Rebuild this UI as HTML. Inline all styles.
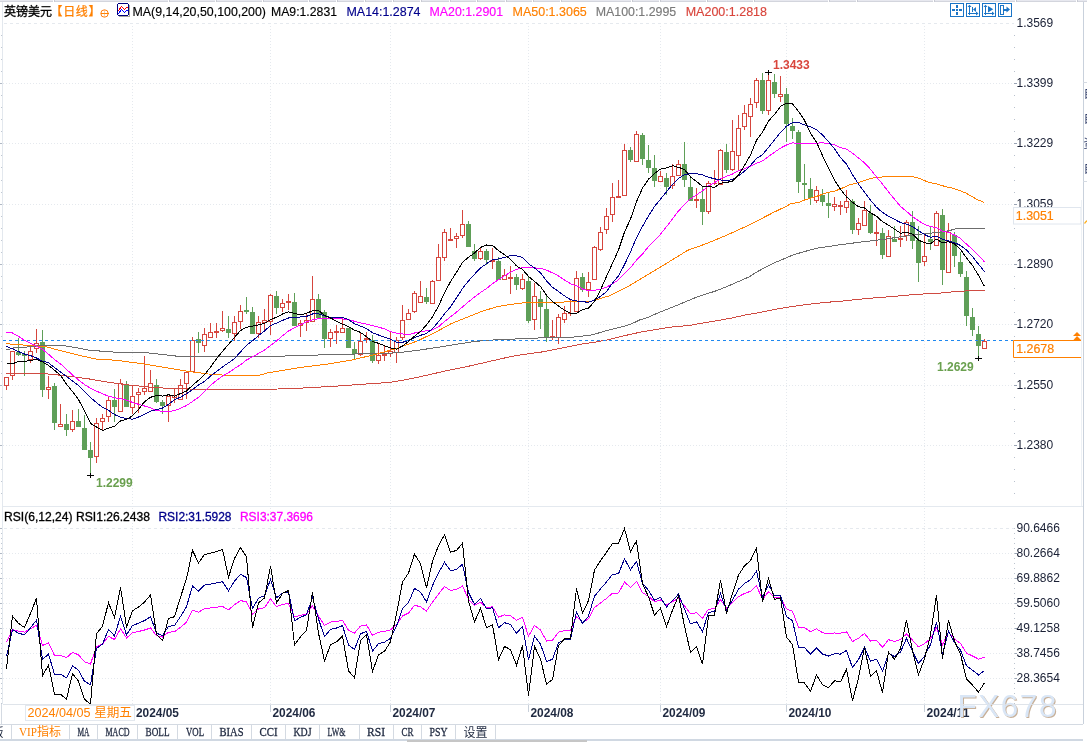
<!DOCTYPE html><html><head><meta charset="utf-8"><title>英镑美元 日线</title><style>html,body{margin:0;padding:0;background:#fff;overflow:hidden}svg{display:block}</style></head><body>
<svg width="1087" height="742" viewBox="0 0 1087 742" font-family="'Liberation Sans', 'Noto Sans CJK SC', sans-serif">
<rect x="0" y="0" width="1087" height="742" fill="#ffffff"/>
<rect x="0" y="0" width="1087" height="1" fill="#e7e8ef"/>
<rect x="0" y="1" width="1087" height="1" fill="#d3d5dd"/>
<rect x="53" y="0" width="1" height="2" fill="#ffffff"/><rect x="54" y="0" width="1" height="2" fill="#c8cad3"/>
<rect x="168" y="0" width="1" height="2" fill="#ffffff"/><rect x="169" y="0" width="1" height="2" fill="#c8cad3"/>
<rect x="215" y="0" width="1" height="2" fill="#ffffff"/><rect x="216" y="0" width="1" height="2" fill="#c8cad3"/>
<rect x="262" y="0" width="1" height="2" fill="#ffffff"/><rect x="263" y="0" width="1" height="2" fill="#c8cad3"/>
<rect x="308" y="0" width="1" height="2" fill="#ffffff"/><rect x="309" y="0" width="1" height="2" fill="#c8cad3"/>
<rect x="336" y="0" width="1" height="2" fill="#ffffff"/><rect x="337" y="0" width="1" height="2" fill="#c8cad3"/>
<rect x="364" y="0" width="1" height="2" fill="#ffffff"/><rect x="365" y="0" width="1" height="2" fill="#c8cad3"/>
<rect x="392" y="0" width="1" height="2" fill="#ffffff"/><rect x="393" y="0" width="1" height="2" fill="#c8cad3"/>
<rect x="420" y="0" width="1" height="2" fill="#ffffff"/><rect x="421" y="0" width="1" height="2" fill="#c8cad3"/>
<rect x="449" y="0" width="1" height="2" fill="#ffffff"/><rect x="450" y="0" width="1" height="2" fill="#c8cad3"/>
<rect x="476" y="0" width="1" height="2" fill="#ffffff"/><rect x="477" y="0" width="1" height="2" fill="#c8cad3"/>
<rect x="505" y="0" width="1" height="2" fill="#ffffff"/><rect x="506" y="0" width="1" height="2" fill="#c8cad3"/>
<rect x="532" y="0" width="1" height="2" fill="#ffffff"/><rect x="533" y="0" width="1" height="2" fill="#c8cad3"/>
<rect x="560" y="0" width="1" height="2" fill="#ffffff"/><rect x="561" y="0" width="1" height="2" fill="#c8cad3"/>
<rect x="631" y="0" width="1" height="2" fill="#ffffff"/><rect x="632" y="0" width="1" height="2" fill="#c8cad3"/>
<rect x="659" y="0" width="1" height="2" fill="#ffffff"/><rect x="660" y="0" width="1" height="2" fill="#c8cad3"/>
<rect x="706" y="0" width="1" height="2" fill="#ffffff"/><rect x="707" y="0" width="1" height="2" fill="#c8cad3"/>
<rect x="753" y="0" width="1" height="2" fill="#ffffff"/><rect x="754" y="0" width="1" height="2" fill="#c8cad3"/>
<rect x="828" y="0" width="1" height="2" fill="#ffffff"/><rect x="829" y="0" width="1" height="2" fill="#c8cad3"/>
<rect x="856" y="0" width="1" height="2" fill="#ffffff"/><rect x="857" y="0" width="1" height="2" fill="#c8cad3"/>
<rect x="933" y="0" width="1" height="2" fill="#ffffff"/><rect x="934" y="0" width="1" height="2" fill="#c8cad3"/>
<rect x="1015" y="0" width="1" height="2" fill="#ffffff"/><rect x="1016" y="0" width="1" height="2" fill="#c8cad3"/>
<rect x="1076" y="0" width="1" height="2" fill="#ffffff"/><rect x="1077" y="0" width="1" height="2" fill="#c8cad3"/>
<line x1="2.5" y1="2" x2="2.5" y2="704" stroke="#e3e8ee" stroke-width="1"/>
<line x1="1083.5" y1="2" x2="1083.5" y2="724" stroke="#c9d1dc" stroke-width="1"/>
<line x1="4" y1="23.5" x2="1014" y2="23.5" stroke="#e5e9ee" stroke-dasharray="3,3"/>
<line x1="3" y1="83.5" x2="1014" y2="83.5" stroke="#e5e9ee" stroke-dasharray="1,2"/>
<line x1="3" y1="143.5" x2="1014" y2="143.5" stroke="#e5e9ee" stroke-dasharray="1,2"/>
<line x1="3" y1="204.5" x2="1014" y2="204.5" stroke="#e5e9ee" stroke-dasharray="1,2"/>
<line x1="3" y1="264.5" x2="1014" y2="264.5" stroke="#e5e9ee" stroke-dasharray="1,2"/>
<line x1="3" y1="324.5" x2="1014" y2="324.5" stroke="#e5e9ee" stroke-dasharray="1,2"/>
<line x1="3" y1="385.5" x2="1014" y2="385.5" stroke="#e5e9ee" stroke-dasharray="1,2"/>
<line x1="3" y1="445.5" x2="1014" y2="445.5" stroke="#e5e9ee" stroke-dasharray="1,2"/>
<line x1="132.5" y1="23" x2="132.5" y2="506" stroke="#e5e9ee" stroke-dasharray="1,2"/>
<line x1="132.5" y1="508" x2="132.5" y2="704" stroke="#e5e9ee" stroke-dasharray="1,2"/>
<line x1="270.5" y1="23" x2="270.5" y2="506" stroke="#e5e9ee" stroke-dasharray="1,2"/>
<line x1="270.5" y1="508" x2="270.5" y2="704" stroke="#e5e9ee" stroke-dasharray="1,2"/>
<line x1="390.5" y1="23" x2="390.5" y2="506" stroke="#e5e9ee" stroke-dasharray="1,2"/>
<line x1="390.5" y1="508" x2="390.5" y2="704" stroke="#e5e9ee" stroke-dasharray="1,2"/>
<line x1="528.5" y1="23" x2="528.5" y2="506" stroke="#e5e9ee" stroke-dasharray="1,2"/>
<line x1="528.5" y1="508" x2="528.5" y2="704" stroke="#e5e9ee" stroke-dasharray="1,2"/>
<line x1="660.5" y1="23" x2="660.5" y2="506" stroke="#e5e9ee" stroke-dasharray="1,2"/>
<line x1="660.5" y1="508" x2="660.5" y2="704" stroke="#e5e9ee" stroke-dasharray="1,2"/>
<line x1="786.5" y1="23" x2="786.5" y2="506" stroke="#e5e9ee" stroke-dasharray="1,2"/>
<line x1="786.5" y1="508" x2="786.5" y2="704" stroke="#e5e9ee" stroke-dasharray="1,2"/>
<line x1="924.5" y1="23" x2="924.5" y2="506" stroke="#e5e9ee" stroke-dasharray="1,2"/>
<line x1="924.5" y1="508" x2="924.5" y2="704" stroke="#e5e9ee" stroke-dasharray="1,2"/>
<g shape-rendering="crispEdges">
<line x1="6.5" y1="377" x2="6.5" y2="390" stroke="#d6453d"/>
<rect x="4.5" y="377.5" width="4" height="8" fill="#fff" stroke="#d6453d"/>
<line x1="12.5" y1="351" x2="12.5" y2="380" stroke="#d6453d"/>
<rect x="10.5" y="351.5" width="4" height="24" fill="#fff" stroke="#d6453d"/>
<line x1="18.5" y1="338" x2="18.5" y2="356" stroke="#5f9f58"/>
<rect x="16" y="352" width="5" height="3" fill="#5f9f58"/>
<line x1="24.5" y1="351" x2="24.5" y2="376" stroke="#5f9f58"/>
<rect x="22" y="354" width="5" height="2" fill="#5f9f58"/>
<line x1="30.5" y1="347" x2="30.5" y2="363" stroke="#d6453d"/>
<rect x="28.5" y="351.5" width="4" height="8" fill="#fff" stroke="#d6453d"/>
<line x1="36.5" y1="329" x2="36.5" y2="353" stroke="#d6453d"/>
<rect x="34.5" y="343.5" width="4" height="5" fill="#fff" stroke="#d6453d"/>
<line x1="42.5" y1="330" x2="42.5" y2="397" stroke="#5f9f58"/>
<rect x="40" y="342" width="5" height="48" fill="#5f9f58"/>
<line x1="48.5" y1="376" x2="48.5" y2="399" stroke="#d6453d"/>
<rect x="46.5" y="387.5" width="4" height="2" fill="#fff" stroke="#d6453d"/>
<line x1="54.5" y1="383" x2="54.5" y2="430" stroke="#5f9f58"/>
<rect x="52" y="386" width="5" height="37" fill="#5f9f58"/>
<line x1="60.5" y1="404" x2="60.5" y2="427" stroke="#d6453d"/>
<rect x="58.5" y="424.5" width="4" height="2" fill="#fff" stroke="#d6453d"/>
<line x1="66.5" y1="414" x2="66.5" y2="436" stroke="#5f9f58"/>
<rect x="64" y="424" width="5" height="6" fill="#5f9f58"/>
<line x1="72.5" y1="410" x2="72.5" y2="432" stroke="#d6453d"/>
<rect x="70.5" y="421.5" width="4" height="8" fill="#fff" stroke="#d6453d"/>
<line x1="78.5" y1="409" x2="78.5" y2="427" stroke="#5f9f58"/>
<rect x="76" y="421" width="5" height="6" fill="#5f9f58"/>
<line x1="84.5" y1="415" x2="84.5" y2="450" stroke="#5f9f58"/>
<rect x="82" y="428" width="5" height="22" fill="#5f9f58"/>
<line x1="90.5" y1="442" x2="90.5" y2="475" stroke="#5f9f58"/>
<rect x="88" y="450" width="5" height="8" fill="#5f9f58"/>
<line x1="96.5" y1="418" x2="96.5" y2="463" stroke="#d6453d"/>
<rect x="94.5" y="423.5" width="4" height="33" fill="#fff" stroke="#d6453d"/>
<line x1="102.5" y1="414" x2="102.5" y2="430" stroke="#d6453d"/>
<rect x="100.5" y="418.5" width="4" height="3" fill="#fff" stroke="#d6453d"/>
<line x1="108.5" y1="396" x2="108.5" y2="422" stroke="#d6453d"/>
<rect x="106.5" y="400.5" width="4" height="16" fill="#fff" stroke="#d6453d"/>
<line x1="114.5" y1="389" x2="114.5" y2="422" stroke="#5f9f58"/>
<rect x="112" y="400" width="5" height="7" fill="#5f9f58"/>
<line x1="120.5" y1="379" x2="120.5" y2="412" stroke="#d6453d"/>
<rect x="118.5" y="383.5" width="4" height="28" fill="#fff" stroke="#d6453d"/>
<line x1="126.5" y1="381" x2="126.5" y2="407" stroke="#5f9f58"/>
<rect x="124" y="384" width="5" height="23" fill="#5f9f58"/>
<line x1="132.5" y1="386" x2="132.5" y2="414" stroke="#d6453d"/>
<rect x="130.5" y="396.5" width="4" height="11" fill="#fff" stroke="#d6453d"/>
<line x1="138.5" y1="388" x2="138.5" y2="413" stroke="#d6453d"/>
<rect x="136.5" y="392.5" width="4" height="2" fill="#fff" stroke="#d6453d"/>
<line x1="144.5" y1="356" x2="144.5" y2="395" stroke="#d6453d"/>
<rect x="142.5" y="388.5" width="4" height="3" fill="#fff" stroke="#d6453d"/>
<line x1="150.5" y1="370" x2="150.5" y2="392" stroke="#d6453d"/>
<rect x="148.5" y="383.5" width="4" height="8" fill="#fff" stroke="#d6453d"/>
<line x1="156.5" y1="379" x2="156.5" y2="403" stroke="#5f9f58"/>
<rect x="154" y="385" width="5" height="17" fill="#5f9f58"/>
<line x1="162.5" y1="400" x2="162.5" y2="414" stroke="#5f9f58"/>
<rect x="160" y="402" width="5" height="4" fill="#5f9f58"/>
<line x1="168.5" y1="396" x2="168.5" y2="422" stroke="#d6453d"/>
<rect x="166.5" y="396.5" width="4" height="9" fill="#fff" stroke="#d6453d"/>
<line x1="174.5" y1="389" x2="174.5" y2="403" stroke="#d6453d"/>
<rect x="172.5" y="395.5" width="4" height="2" fill="#fff" stroke="#d6453d"/>
<line x1="180.5" y1="379" x2="180.5" y2="400" stroke="#d6453d"/>
<rect x="178.5" y="385.5" width="4" height="14" fill="#fff" stroke="#d6453d"/>
<line x1="186.5" y1="371" x2="186.5" y2="399" stroke="#d6453d"/>
<rect x="184.5" y="372.5" width="4" height="11" fill="#fff" stroke="#d6453d"/>
<line x1="192.5" y1="337" x2="192.5" y2="372" stroke="#d6453d"/>
<rect x="190.5" y="340.5" width="4" height="31" fill="#fff" stroke="#d6453d"/>
<line x1="198.5" y1="332" x2="198.5" y2="353" stroke="#5f9f58"/>
<rect x="196" y="339" width="5" height="4" fill="#5f9f58"/>
<line x1="204.5" y1="328" x2="204.5" y2="352" stroke="#d6453d"/>
<rect x="202.5" y="334.5" width="4" height="11" fill="#fff" stroke="#d6453d"/>
<line x1="210.5" y1="323" x2="210.5" y2="338" stroke="#d6453d"/>
<rect x="208.5" y="332.5" width="4" height="5" fill="#fff" stroke="#d6453d"/>
<line x1="216.5" y1="323" x2="216.5" y2="338" stroke="#d6453d"/>
<rect x="214" y="331" width="5" height="2" fill="#d6453d"/>
<line x1="222.5" y1="311" x2="222.5" y2="332" stroke="#d6453d"/>
<rect x="220.5" y="328.5" width="4" height="2" fill="#fff" stroke="#d6453d"/>
<line x1="228.5" y1="316" x2="228.5" y2="338" stroke="#5f9f58"/>
<rect x="226" y="329" width="5" height="4" fill="#5f9f58"/>
<line x1="234.5" y1="316" x2="234.5" y2="341" stroke="#d6453d"/>
<rect x="232.5" y="322.5" width="4" height="11" fill="#fff" stroke="#d6453d"/>
<line x1="240.5" y1="305" x2="240.5" y2="329" stroke="#d6453d"/>
<rect x="238.5" y="311.5" width="4" height="10" fill="#fff" stroke="#d6453d"/>
<line x1="246.5" y1="297" x2="246.5" y2="314" stroke="#5f9f58"/>
<rect x="244" y="310" width="5" height="2" fill="#5f9f58"/>
<line x1="252.5" y1="307" x2="252.5" y2="334" stroke="#5f9f58"/>
<rect x="250" y="312" width="5" height="22" fill="#5f9f58"/>
<line x1="258.5" y1="316" x2="258.5" y2="338" stroke="#d6453d"/>
<rect x="256.5" y="322.5" width="4" height="11" fill="#fff" stroke="#d6453d"/>
<line x1="264.5" y1="309" x2="264.5" y2="332" stroke="#d6453d"/>
<rect x="262.5" y="320.5" width="4" height="2" fill="#fff" stroke="#d6453d"/>
<line x1="270.5" y1="294" x2="270.5" y2="335" stroke="#d6453d"/>
<rect x="268.5" y="295.5" width="4" height="26" fill="#fff" stroke="#d6453d"/>
<line x1="276.5" y1="291" x2="276.5" y2="314" stroke="#5f9f58"/>
<rect x="274" y="296" width="5" height="12" fill="#5f9f58"/>
<line x1="282.5" y1="299" x2="282.5" y2="312" stroke="#d6453d"/>
<rect x="280.5" y="303.5" width="4" height="4" fill="#fff" stroke="#d6453d"/>
<line x1="288.5" y1="294" x2="288.5" y2="310" stroke="#d6453d"/>
<rect x="286" y="301" width="5" height="2" fill="#d6453d"/>
<line x1="294.5" y1="293" x2="294.5" y2="326" stroke="#5f9f58"/>
<rect x="292" y="302" width="5" height="24" fill="#5f9f58"/>
<line x1="300.5" y1="320" x2="300.5" y2="337" stroke="#d6453d"/>
<rect x="298.5" y="323.5" width="4" height="2" fill="#fff" stroke="#d6453d"/>
<line x1="306.5" y1="314" x2="306.5" y2="331" stroke="#d6453d"/>
<rect x="304.5" y="320.5" width="4" height="2" fill="#fff" stroke="#d6453d"/>
<line x1="312.5" y1="276" x2="312.5" y2="322" stroke="#d6453d"/>
<rect x="310.5" y="299.5" width="4" height="22" fill="#fff" stroke="#d6453d"/>
<line x1="318.5" y1="294" x2="318.5" y2="319" stroke="#5f9f58"/>
<rect x="316" y="299" width="5" height="19" fill="#5f9f58"/>
<line x1="324.5" y1="310" x2="324.5" y2="348" stroke="#5f9f58"/>
<rect x="322" y="312" width="5" height="27" fill="#5f9f58"/>
<line x1="330.5" y1="329" x2="330.5" y2="347" stroke="#d6453d"/>
<rect x="328.5" y="332.5" width="4" height="6" fill="#fff" stroke="#d6453d"/>
<line x1="336.5" y1="325" x2="336.5" y2="344" stroke="#d6453d"/>
<rect x="334" y="331" width="5" height="2" fill="#d6453d"/>
<line x1="342.5" y1="319" x2="342.5" y2="333" stroke="#d6453d"/>
<rect x="340.5" y="328.5" width="4" height="4" fill="#fff" stroke="#d6453d"/>
<line x1="348.5" y1="328" x2="348.5" y2="348" stroke="#5f9f58"/>
<rect x="346" y="328" width="5" height="20" fill="#5f9f58"/>
<line x1="354.5" y1="342" x2="354.5" y2="360" stroke="#5f9f58"/>
<rect x="352" y="349" width="5" height="5" fill="#5f9f58"/>
<line x1="360.5" y1="333" x2="360.5" y2="356" stroke="#d6453d"/>
<rect x="358.5" y="341.5" width="4" height="13" fill="#fff" stroke="#d6453d"/>
<line x1="366.5" y1="332" x2="366.5" y2="343" stroke="#d6453d"/>
<rect x="364" y="338" width="5" height="2" fill="#d6453d"/>
<line x1="372.5" y1="335" x2="372.5" y2="363" stroke="#5f9f58"/>
<rect x="370" y="340" width="5" height="21" fill="#5f9f58"/>
<line x1="378.5" y1="343" x2="378.5" y2="364" stroke="#d6453d"/>
<rect x="376.5" y="355.5" width="4" height="5" fill="#fff" stroke="#d6453d"/>
<line x1="384.5" y1="346" x2="384.5" y2="361" stroke="#d6453d"/>
<rect x="382" y="354" width="5" height="2" fill="#d6453d"/>
<line x1="390.5" y1="331" x2="390.5" y2="357" stroke="#d6453d"/>
<rect x="388.5" y="351.5" width="4" height="2" fill="#fff" stroke="#d6453d"/>
<line x1="396.5" y1="337" x2="396.5" y2="363" stroke="#d6453d"/>
<rect x="394.5" y="340.5" width="4" height="12" fill="#fff" stroke="#d6453d"/>
<line x1="402.5" y1="305" x2="402.5" y2="340" stroke="#d6453d"/>
<rect x="400.5" y="320.5" width="4" height="17" fill="#fff" stroke="#d6453d"/>
<line x1="408.5" y1="309" x2="408.5" y2="320" stroke="#d6453d"/>
<rect x="406.5" y="313.5" width="4" height="6" fill="#fff" stroke="#d6453d"/>
<line x1="414.5" y1="291" x2="414.5" y2="313" stroke="#d6453d"/>
<rect x="412.5" y="293.5" width="4" height="18" fill="#fff" stroke="#d6453d"/>
<line x1="420.5" y1="281" x2="420.5" y2="303" stroke="#d6453d"/>
<rect x="418.5" y="296.5" width="4" height="6" fill="#fff" stroke="#d6453d"/>
<line x1="426.5" y1="288" x2="426.5" y2="304" stroke="#5f9f58"/>
<rect x="424" y="297" width="5" height="5" fill="#5f9f58"/>
<line x1="432.5" y1="280" x2="432.5" y2="304" stroke="#d6453d"/>
<rect x="430.5" y="281.5" width="4" height="22" fill="#fff" stroke="#d6453d"/>
<line x1="438.5" y1="244" x2="438.5" y2="281" stroke="#d6453d"/>
<rect x="436.5" y="257.5" width="4" height="23" fill="#fff" stroke="#d6453d"/>
<line x1="444.5" y1="229" x2="444.5" y2="261" stroke="#d6453d"/>
<rect x="442.5" y="232.5" width="4" height="25" fill="#fff" stroke="#d6453d"/>
<line x1="450.5" y1="228" x2="450.5" y2="241" stroke="#d6453d"/>
<rect x="448" y="239" width="5" height="2" fill="#d6453d"/>
<line x1="456.5" y1="233" x2="456.5" y2="248" stroke="#d6453d"/>
<rect x="454.5" y="236.5" width="4" height="2" fill="#fff" stroke="#d6453d"/>
<line x1="462.5" y1="210" x2="462.5" y2="238" stroke="#d6453d"/>
<rect x="460.5" y="224.5" width="4" height="11" fill="#fff" stroke="#d6453d"/>
<line x1="468.5" y1="221" x2="468.5" y2="247" stroke="#5f9f58"/>
<rect x="466" y="224" width="5" height="23" fill="#5f9f58"/>
<line x1="474.5" y1="244" x2="474.5" y2="261" stroke="#5f9f58"/>
<rect x="472" y="251" width="5" height="8" fill="#5f9f58"/>
<line x1="480.5" y1="247" x2="480.5" y2="260" stroke="#d6453d"/>
<rect x="478.5" y="251.5" width="4" height="7" fill="#fff" stroke="#d6453d"/>
<line x1="486.5" y1="249" x2="486.5" y2="265" stroke="#5f9f58"/>
<rect x="484" y="251" width="5" height="9" fill="#5f9f58"/>
<line x1="492.5" y1="248" x2="492.5" y2="269" stroke="#d6453d"/>
<rect x="490" y="260" width="5" height="2" fill="#d6453d"/>
<line x1="498.5" y1="257" x2="498.5" y2="280" stroke="#5f9f58"/>
<rect x="496" y="261" width="5" height="19" fill="#5f9f58"/>
<line x1="504.5" y1="269" x2="504.5" y2="280" stroke="#d6453d"/>
<rect x="502.5" y="275.5" width="4" height="4" fill="#fff" stroke="#d6453d"/>
<line x1="510.5" y1="266" x2="510.5" y2="294" stroke="#d6453d"/>
<rect x="508" y="277" width="5" height="2" fill="#d6453d"/>
<line x1="516.5" y1="274" x2="516.5" y2="290" stroke="#5f9f58"/>
<rect x="514" y="277" width="5" height="8" fill="#5f9f58"/>
<line x1="522.5" y1="274" x2="522.5" y2="290" stroke="#d6453d"/>
<rect x="520.5" y="279.5" width="4" height="9" fill="#fff" stroke="#d6453d"/>
<line x1="528.5" y1="276" x2="528.5" y2="323" stroke="#5f9f58"/>
<rect x="526" y="281" width="5" height="40" fill="#5f9f58"/>
<line x1="534.5" y1="283" x2="534.5" y2="330" stroke="#d6453d"/>
<rect x="532.5" y="296.5" width="4" height="23" fill="#fff" stroke="#d6453d"/>
<line x1="540.5" y1="291" x2="540.5" y2="329" stroke="#5f9f58"/>
<rect x="538" y="299" width="5" height="8" fill="#5f9f58"/>
<line x1="546.5" y1="296" x2="546.5" y2="342" stroke="#5f9f58"/>
<rect x="544" y="309" width="5" height="28" fill="#5f9f58"/>
<line x1="552.5" y1="320" x2="552.5" y2="340" stroke="#d6453d"/>
<rect x="550" y="336" width="5" height="2" fill="#d6453d"/>
<line x1="558.5" y1="314" x2="558.5" y2="344" stroke="#d6453d"/>
<rect x="556.5" y="317.5" width="4" height="20" fill="#fff" stroke="#d6453d"/>
<line x1="564.5" y1="306" x2="564.5" y2="323" stroke="#d6453d"/>
<rect x="562.5" y="313.5" width="4" height="6" fill="#fff" stroke="#d6453d"/>
<line x1="570.5" y1="300" x2="570.5" y2="316" stroke="#d6453d"/>
<rect x="568" y="313" width="5" height="1" fill="#d6453d"/>
<line x1="576.5" y1="271" x2="576.5" y2="312" stroke="#d6453d"/>
<rect x="574.5" y="278.5" width="4" height="33" fill="#fff" stroke="#d6453d"/>
<line x1="582.5" y1="273" x2="582.5" y2="292" stroke="#5f9f58"/>
<rect x="580" y="277" width="5" height="13" fill="#5f9f58"/>
<line x1="588.5" y1="272" x2="588.5" y2="297" stroke="#d6453d"/>
<rect x="586.5" y="282.5" width="4" height="7" fill="#fff" stroke="#d6453d"/>
<line x1="594.5" y1="246" x2="594.5" y2="280" stroke="#d6453d"/>
<rect x="592.5" y="247.5" width="4" height="32" fill="#fff" stroke="#d6453d"/>
<line x1="600.5" y1="227" x2="600.5" y2="251" stroke="#d6453d"/>
<rect x="598.5" y="232.5" width="4" height="17" fill="#fff" stroke="#d6453d"/>
<line x1="606.5" y1="208" x2="606.5" y2="234" stroke="#d6453d"/>
<rect x="604.5" y="216.5" width="4" height="13" fill="#fff" stroke="#d6453d"/>
<line x1="612.5" y1="183" x2="612.5" y2="222" stroke="#d6453d"/>
<rect x="610.5" y="197.5" width="4" height="17" fill="#fff" stroke="#d6453d"/>
<line x1="618.5" y1="180" x2="618.5" y2="198" stroke="#d6453d"/>
<rect x="616" y="196" width="5" height="2" fill="#d6453d"/>
<line x1="624.5" y1="144" x2="624.5" y2="196" stroke="#d6453d"/>
<rect x="622.5" y="150.5" width="4" height="45" fill="#fff" stroke="#d6453d"/>
<line x1="630.5" y1="147" x2="630.5" y2="162" stroke="#5f9f58"/>
<rect x="628" y="150" width="5" height="10" fill="#5f9f58"/>
<line x1="636.5" y1="131" x2="636.5" y2="162" stroke="#d6453d"/>
<rect x="634.5" y="134.5" width="4" height="27" fill="#fff" stroke="#d6453d"/>
<line x1="642.5" y1="133" x2="642.5" y2="165" stroke="#5f9f58"/>
<rect x="640" y="135" width="5" height="24" fill="#5f9f58"/>
<line x1="648.5" y1="145" x2="648.5" y2="173" stroke="#5f9f58"/>
<rect x="646" y="160" width="5" height="8" fill="#5f9f58"/>
<line x1="654.5" y1="155" x2="654.5" y2="187" stroke="#5f9f58"/>
<rect x="652" y="168" width="5" height="13" fill="#5f9f58"/>
<line x1="660.5" y1="171" x2="660.5" y2="182" stroke="#d6453d"/>
<rect x="658.5" y="176.5" width="4" height="5" fill="#fff" stroke="#d6453d"/>
<line x1="666.5" y1="173" x2="666.5" y2="195" stroke="#5f9f58"/>
<rect x="664" y="178" width="5" height="9" fill="#5f9f58"/>
<line x1="672.5" y1="164" x2="672.5" y2="189" stroke="#d6453d"/>
<rect x="670.5" y="176.5" width="4" height="9" fill="#fff" stroke="#d6453d"/>
<line x1="678.5" y1="160" x2="678.5" y2="176" stroke="#d6453d"/>
<rect x="676.5" y="164.5" width="4" height="11" fill="#fff" stroke="#d6453d"/>
<line x1="684.5" y1="142" x2="684.5" y2="187" stroke="#5f9f58"/>
<rect x="682" y="164" width="5" height="16" fill="#5f9f58"/>
<line x1="690.5" y1="177" x2="690.5" y2="201" stroke="#5f9f58"/>
<rect x="688" y="187" width="5" height="14" fill="#5f9f58"/>
<line x1="696.5" y1="188" x2="696.5" y2="208" stroke="#d6453d"/>
<rect x="694" y="199" width="5" height="2" fill="#d6453d"/>
<line x1="702.5" y1="187" x2="702.5" y2="225" stroke="#5f9f58"/>
<rect x="700" y="199" width="5" height="13" fill="#5f9f58"/>
<line x1="708.5" y1="181" x2="708.5" y2="214" stroke="#d6453d"/>
<rect x="706.5" y="183.5" width="4" height="28" fill="#fff" stroke="#d6453d"/>
<line x1="714.5" y1="170" x2="714.5" y2="185" stroke="#d6453d"/>
<rect x="712" y="183" width="5" height="1" fill="#d6453d"/>
<line x1="720.5" y1="149" x2="720.5" y2="185" stroke="#d6453d"/>
<rect x="718.5" y="150.5" width="4" height="34" fill="#fff" stroke="#d6453d"/>
<line x1="726.5" y1="144" x2="726.5" y2="173" stroke="#5f9f58"/>
<rect x="724" y="152" width="5" height="18" fill="#5f9f58"/>
<line x1="732.5" y1="120" x2="732.5" y2="171" stroke="#d6453d"/>
<rect x="730.5" y="151.5" width="4" height="18" fill="#fff" stroke="#d6453d"/>
<line x1="738.5" y1="115" x2="738.5" y2="170" stroke="#d6453d"/>
<rect x="736.5" y="128.5" width="4" height="27" fill="#fff" stroke="#d6453d"/>
<line x1="744.5" y1="105" x2="744.5" y2="130" stroke="#d6453d"/>
<rect x="742.5" y="113.5" width="4" height="13" fill="#fff" stroke="#d6453d"/>
<line x1="750.5" y1="98" x2="750.5" y2="137" stroke="#d6453d"/>
<rect x="748.5" y="104.5" width="4" height="12" fill="#fff" stroke="#d6453d"/>
<line x1="756.5" y1="78" x2="756.5" y2="108" stroke="#d6453d"/>
<rect x="754.5" y="80.5" width="4" height="22" fill="#fff" stroke="#d6453d"/>
<line x1="762.5" y1="73" x2="762.5" y2="114" stroke="#5f9f58"/>
<rect x="760" y="80" width="5" height="31" fill="#5f9f58"/>
<line x1="768.5" y1="72" x2="768.5" y2="115" stroke="#d6453d"/>
<rect x="766.5" y="80.5" width="4" height="30" fill="#fff" stroke="#d6453d"/>
<line x1="774.5" y1="74" x2="774.5" y2="98" stroke="#5f9f58"/>
<rect x="772" y="82" width="5" height="12" fill="#5f9f58"/>
<line x1="780.5" y1="76" x2="780.5" y2="102" stroke="#d6453d"/>
<rect x="778.5" y="94.5" width="4" height="2" fill="#fff" stroke="#d6453d"/>
<line x1="786.5" y1="88" x2="786.5" y2="142" stroke="#5f9f58"/>
<rect x="784" y="94" width="5" height="30" fill="#5f9f58"/>
<line x1="792.5" y1="118" x2="792.5" y2="139" stroke="#5f9f58"/>
<rect x="790" y="126" width="5" height="5" fill="#5f9f58"/>
<line x1="798.5" y1="130" x2="798.5" y2="193" stroke="#5f9f58"/>
<rect x="796" y="132" width="5" height="50" fill="#5f9f58"/>
<line x1="804.5" y1="164" x2="804.5" y2="200" stroke="#5f9f58"/>
<rect x="802" y="183" width="5" height="2" fill="#5f9f58"/>
<line x1="810.5" y1="178" x2="810.5" y2="205" stroke="#5f9f58"/>
<rect x="808" y="189" width="5" height="9" fill="#5f9f58"/>
<line x1="816.5" y1="186" x2="816.5" y2="203" stroke="#d6453d"/>
<rect x="814.5" y="190.5" width="4" height="10" fill="#fff" stroke="#d6453d"/>
<line x1="822.5" y1="189" x2="822.5" y2="206" stroke="#5f9f58"/>
<rect x="820" y="195" width="5" height="7" fill="#5f9f58"/>
<line x1="828.5" y1="193" x2="828.5" y2="218" stroke="#5f9f58"/>
<rect x="826" y="203" width="5" height="3" fill="#5f9f58"/>
<line x1="834.5" y1="197" x2="834.5" y2="211" stroke="#d6453d"/>
<rect x="832.5" y="204.5" width="4" height="2" fill="#fff" stroke="#d6453d"/>
<line x1="840.5" y1="201" x2="840.5" y2="215" stroke="#d6453d"/>
<rect x="838" y="205" width="5" height="2" fill="#d6453d"/>
<line x1="846.5" y1="190" x2="846.5" y2="213" stroke="#d6453d"/>
<rect x="844.5" y="201.5" width="4" height="6" fill="#fff" stroke="#d6453d"/>
<line x1="852.5" y1="199" x2="852.5" y2="234" stroke="#5f9f58"/>
<rect x="850" y="201" width="5" height="29" fill="#5f9f58"/>
<line x1="858.5" y1="218" x2="858.5" y2="235" stroke="#d6453d"/>
<rect x="856.5" y="223.5" width="4" height="6" fill="#fff" stroke="#d6453d"/>
<line x1="864.5" y1="201" x2="864.5" y2="226" stroke="#d6453d"/>
<rect x="862.5" y="210.5" width="4" height="15" fill="#fff" stroke="#d6453d"/>
<line x1="870.5" y1="205" x2="870.5" y2="234" stroke="#5f9f58"/>
<rect x="868" y="213" width="5" height="20" fill="#5f9f58"/>
<line x1="876.5" y1="220" x2="876.5" y2="246" stroke="#d6453d"/>
<rect x="874" y="232" width="5" height="2" fill="#d6453d"/>
<line x1="882.5" y1="228" x2="882.5" y2="259" stroke="#5f9f58"/>
<rect x="880" y="233" width="5" height="22" fill="#5f9f58"/>
<line x1="888.5" y1="230" x2="888.5" y2="257" stroke="#d6453d"/>
<rect x="886.5" y="236.5" width="4" height="20" fill="#fff" stroke="#d6453d"/>
<line x1="894.5" y1="226" x2="894.5" y2="242" stroke="#5f9f58"/>
<rect x="892" y="239" width="5" height="3" fill="#5f9f58"/>
<line x1="900.5" y1="226" x2="900.5" y2="247" stroke="#d6453d"/>
<rect x="898" y="238" width="5" height="2" fill="#d6453d"/>
<line x1="906.5" y1="220" x2="906.5" y2="241" stroke="#d6453d"/>
<rect x="904.5" y="222.5" width="4" height="13" fill="#fff" stroke="#d6453d"/>
<line x1="912.5" y1="211" x2="912.5" y2="249" stroke="#5f9f58"/>
<rect x="910" y="222" width="5" height="19" fill="#5f9f58"/>
<line x1="918.5" y1="226" x2="918.5" y2="282" stroke="#5f9f58"/>
<rect x="916" y="240" width="5" height="23" fill="#5f9f58"/>
<line x1="924.5" y1="234" x2="924.5" y2="266" stroke="#d6453d"/>
<rect x="922.5" y="256.5" width="4" height="5" fill="#fff" stroke="#d6453d"/>
<line x1="930.5" y1="226" x2="930.5" y2="250" stroke="#5f9f58"/>
<rect x="928" y="239" width="5" height="3" fill="#5f9f58"/>
<line x1="936.5" y1="211" x2="936.5" y2="246" stroke="#d6453d"/>
<rect x="934.5" y="213.5" width="4" height="32" fill="#fff" stroke="#d6453d"/>
<line x1="942.5" y1="209" x2="942.5" y2="285" stroke="#5f9f58"/>
<rect x="940" y="215" width="5" height="55" fill="#5f9f58"/>
<line x1="948.5" y1="223" x2="948.5" y2="273" stroke="#d6453d"/>
<rect x="946.5" y="232.5" width="4" height="40" fill="#fff" stroke="#d6453d"/>
<line x1="954.5" y1="232" x2="954.5" y2="267" stroke="#5f9f58"/>
<rect x="952" y="235" width="5" height="21" fill="#5f9f58"/>
<line x1="960.5" y1="252" x2="960.5" y2="277" stroke="#5f9f58"/>
<rect x="958" y="262" width="5" height="12" fill="#5f9f58"/>
<line x1="966.5" y1="271" x2="966.5" y2="326" stroke="#5f9f58"/>
<rect x="964" y="277" width="5" height="39" fill="#5f9f58"/>
<line x1="972.5" y1="308" x2="972.5" y2="336" stroke="#5f9f58"/>
<rect x="970" y="317" width="5" height="13" fill="#5f9f58"/>
<line x1="978.5" y1="326" x2="978.5" y2="359" stroke="#5f9f58"/>
<rect x="976" y="334" width="5" height="12" fill="#5f9f58"/>
<line x1="984.5" y1="339" x2="984.5" y2="349" stroke="#d6453d"/>
<rect x="982.5" y="341.5" width="4" height="7" fill="#fff" stroke="#d6453d"/>
</g>
<g>
<polyline points="6.1,373.3 44.2,373.7 61.8,375.3 88.3,378.8 110.4,382.6 132.5,385.4 154.5,387.6 176.6,388.7 198.7,389.2 240.0,389.3 278.6,389.0 280.0,388.4 309.0,387.9 326.9,386.6 344.9,385.6 357.3,384.5 375.2,383.5 390.0,382.3 403.8,380.0 417.6,377.3 431.4,374.2 445.2,371.0 459.0,368.3 472.8,365.3 486.6,362.1 500.4,358.9 514.2,355.9 528.0,353.8 540.0,352.3 553.8,349.7 567.6,346.9 581.4,344.1 595.2,342.1 609.0,339.6 623.1,336.0 639.7,332.3 656.2,329.4 672.8,326.9 680.0,326.3 690.0,325.3 703.8,322.9 717.6,320.6 731.4,318.1 745.2,315.0 759.0,312.6 772.8,309.8 786.6,307.3 800.4,305.4 814.2,303.6 828.0,302.2 840.0,301.3 855.2,299.7 867.6,298.4 879.3,297.5 891.1,296.6 903.5,295.5 915.2,294.4 933.8,293.5 944.9,292.7 957.3,291.3 984.5,290.3" fill="none" stroke="#cf4b42" stroke-width="1" shape-rendering="crispEdges" />
<polyline points="6.1,349.5 8.9,349.5 13.8,347.9 25.9,347.5 29.1,346.3 50.0,345.5 62.3,345.4 78.5,348.1 89.3,350.2 110.8,351.9 120.0,352.4 146.5,352.7 178.9,356.4 208.4,356.8 270.0,356.5 306.8,355.3 343.6,354.3 390.0,353.1 398.3,352.7 417.6,350.3 431.4,348.3 445.2,346.2 459.0,343.9 472.8,341.7 486.6,340.3 540.0,337.9 567.6,337.7 590.0,335.2 598.3,333.1 606.6,330.6 614.8,328.6 623.1,326.5 631.4,324.0 639.7,319.9 647.9,317.4 656.2,313.7 664.5,310.3 672.8,307.0 680.0,304.1 696.2,297.3 717.7,290.3 730.6,285.0 749.0,276.9 757.6,271.5 772.1,263.8 794.2,254.5 816.2,248.3 838.3,245.0 860.4,242.1 882.5,239.5 904.6,236.2 926.6,233.5 944.3,231.8 953.1,229.6 957.6,228.4 984.5,228.4" fill="none" stroke="#6c6c6c" stroke-width="1" shape-rendering="crispEdges" />
<polyline points="6.1,343.5 9.7,344.0 21.8,344.3 23.5,345.5 32.4,345.7 45.1,346.5 56.9,349.7 78.5,355.1 94.7,358.9 110.8,359.9 120.0,360.8 142.1,363.7 164.2,367.4 186.3,371.1 208.4,374.0 223.1,375.1 259.9,375.1 267.3,373.0 270.0,372.5 299.5,367.6 328.9,363.9 351.0,360.2 373.1,355.0 395.2,348.9 417.3,341.0 435.6,332.2 451.3,323.6 466.9,317.4 482.6,311.1 498.2,306.4 510.7,304.4 526.3,302.5 545.1,302.5 580.0,301.6 591.7,301.2 609.3,295.8 628.9,286.0 648.4,274.3 667.9,262.5 687.5,250.4 707.0,243.4 726.6,235.2 746.1,226.4 760.0,219.4 773.5,212.4 786.3,206.3 791.0,203.6 799.1,202.3 803.8,200.2 810.6,198.2 820.0,195.2 827.4,192.6 834.7,191.1 842.1,188.2 849.4,184.9 856.8,183.0 864.2,180.5 871.5,178.2 877.4,177.4 884.8,176.8 900.0,176.3 909.5,176.3 915.7,177.3 922.4,179.6 929.0,182.5 937.3,184.1 945.5,186.6 953.0,188.3 959.6,190.4 966.2,193.2 972.8,197.0 977.8,199.9 984.5,202.5" fill="none" stroke="#ff8000" stroke-width="1" shape-rendering="crispEdges" />
<polyline points="6.5,332.3 12.5,333.0 18.5,336.3 24.5,340.3 30.5,343.3 36.5,346.1 42.5,349.2 48.5,354.3 54.5,359.4 60.5,363.9 66.5,369.3 72.5,375.0 78.5,379.9 84.5,384.6 90.5,388.1 96.5,391.1 102.5,393.8 108.5,396.2 114.5,397.7 120.5,398.7 126.5,400.2 132.5,402.4 138.5,404.3 144.5,406.0 150.5,407.6 156.5,410.6 162.5,411.3 168.5,411.8 174.5,410.4 180.5,408.4 186.5,405.5 192.5,401.5 198.5,397.3 204.5,391.5 210.5,385.2 216.5,380.6 222.5,376.1 228.5,372.8 234.5,368.5 240.5,364.8 246.5,360.0 252.5,356.9 258.5,353.5 264.5,350.0 270.5,345.6 276.5,340.9 282.5,335.8 288.5,331.1 294.5,327.6 300.5,324.6 306.5,321.9 312.5,319.9 318.5,318.6 324.5,318.9 330.5,318.9 336.5,318.9 342.5,318.9 348.5,319.6 354.5,321.3 360.5,322.8 366.5,324.2 372.5,325.5 378.5,327.1 384.5,328.9 390.5,331.6 396.5,333.2 402.5,334.0 408.5,334.6 414.5,333.0 420.5,331.7 426.5,330.8 432.5,329.9 438.5,326.8 444.5,321.5 450.5,316.8 456.5,312.1 462.5,306.9 468.5,301.8 474.5,297.0 480.5,292.5 486.5,288.6 492.5,283.6 498.5,279.8 504.5,275.9 510.5,272.2 516.5,269.4 522.5,267.4 528.5,267.8 534.5,267.9 540.5,268.4 546.5,270.1 552.5,272.9 558.5,275.9 564.5,280.0 570.5,283.7 576.5,285.7 582.5,289.0 588.5,290.8 594.5,290.2 600.5,289.3 606.5,287.1 612.5,283.9 618.5,279.8 624.5,273.5 630.5,267.7 636.5,260.2 642.5,254.1 648.5,246.5 654.5,240.7 660.5,234.2 666.5,226.7 672.5,218.7 678.5,211.0 684.5,204.4 690.5,198.8 696.5,194.9 702.5,190.9 708.5,186.0 714.5,182.8 720.5,178.7 726.5,176.3 732.5,174.1 738.5,170.6 744.5,168.8 750.5,166.0 756.5,163.3 762.5,160.9 768.5,156.5 774.5,152.2 780.5,148.1 786.5,145.0 792.5,142.7 798.5,143.7 804.5,143.8 810.5,143.7 816.5,143.2 822.5,142.7 828.5,143.8 834.5,144.9 840.5,147.7 846.5,149.2 852.5,153.2 858.5,158.0 864.5,162.8 870.5,169.3 876.5,176.9 882.5,184.1 888.5,191.9 894.5,199.2 900.5,206.4 906.5,211.3 912.5,216.7 918.5,220.7 924.5,224.4 930.5,226.6 936.5,227.7 942.5,231.1 948.5,232.4 954.5,235.0 960.5,238.4 966.5,244.2 972.5,249.2 978.5,255.3 984.5,261.9" fill="none" stroke="#ff00ff" stroke-width="1" shape-rendering="crispEdges" />
<polyline points="6.5,346.5 12.5,348.9 18.5,351.6 24.5,354.0 30.5,355.6 36.5,358.0 42.5,361.1 48.5,362.8 54.5,367.5 60.5,372.1 66.5,376.6 72.5,381.0 78.5,385.6 84.5,391.7 90.5,397.5 96.5,402.6 102.5,407.2 108.5,410.4 114.5,414.5 120.5,417.3 126.5,418.5 132.5,419.2 138.5,417.0 144.5,414.4 150.5,411.1 156.5,409.7 162.5,408.1 168.5,404.3 174.5,399.8 180.5,397.1 186.5,393.8 192.5,389.5 198.5,384.9 204.5,381.4 210.5,376.1 216.5,371.4 222.5,366.9 228.5,362.9 234.5,358.5 240.5,352.0 246.5,345.3 252.5,340.8 258.5,335.6 264.5,331.0 270.5,325.5 276.5,323.2 282.5,320.4 288.5,318.0 294.5,317.5 300.5,317.0 306.5,316.4 312.5,314.0 318.5,313.7 324.5,315.8 330.5,317.3 336.5,317.1 342.5,317.5 348.5,319.5 354.5,323.8 360.5,326.1 366.5,328.6 372.5,332.8 378.5,335.0 384.5,337.2 390.5,339.3 396.5,342.2 402.5,342.3 408.5,340.5 414.5,337.7 420.5,335.3 426.5,333.5 432.5,328.6 438.5,321.7 444.5,313.9 450.5,306.8 456.5,297.9 462.5,288.5 468.5,280.9 474.5,274.3 480.5,268.0 486.5,263.7 492.5,259.9 498.5,258.9 504.5,257.4 510.5,255.6 516.5,255.8 522.5,257.4 528.5,263.8 534.5,267.9 540.5,272.9 546.5,280.9 552.5,287.3 558.5,291.5 564.5,295.9 570.5,299.7 576.5,301.0 582.5,301.8 588.5,302.2 594.5,300.1 600.5,296.3 606.5,291.8 612.5,283.0 618.5,275.8 624.5,264.7 630.5,252.0 636.5,237.6 642.5,226.3 648.5,215.9 654.5,206.5 660.5,199.2 666.5,191.8 672.5,184.3 678.5,178.4 684.5,174.7 690.5,173.6 696.5,173.7 702.5,174.9 708.5,177.2 714.5,178.8 720.5,180.0 726.5,180.7 732.5,179.5 738.5,175.7 744.5,171.2 750.5,165.4 756.5,158.5 762.5,154.7 768.5,147.5 774.5,139.9 780.5,132.4 786.5,126.2 792.5,122.5 798.5,122.5 804.5,124.9 810.5,126.9 816.5,129.7 822.5,135.0 828.5,141.6 834.5,148.7 840.5,157.6 846.5,164.1 852.5,174.8 858.5,184.0 864.5,192.3 870.5,200.1 876.5,207.3 882.5,212.4 888.5,216.2 894.5,219.3 900.5,222.6 906.5,224.1 912.5,226.6 918.5,230.8 924.5,234.5 930.5,237.4 936.5,236.1 942.5,239.4 948.5,241.0 954.5,242.6 960.5,245.5 966.5,250.0 972.5,256.7 978.5,264.2 984.5,271.6" fill="none" stroke="#00008b" stroke-width="1" shape-rendering="crispEdges" />
<polyline points="6.5,363.7 12.5,363.7 18.5,361.6 24.5,361.4 30.5,360.4 36.5,359.5 42.5,361.9 48.5,365.5 54.5,370.2 60.5,375.4 66.5,384.1 72.5,391.6 78.5,399.6 84.5,410.6 90.5,423.4 96.5,427.0 102.5,430.5 108.5,428.1 114.5,426.2 120.5,420.9 126.5,419.4 132.5,415.8 138.5,409.4 144.5,401.8 150.5,397.3 156.5,395.5 162.5,396.1 168.5,394.8 174.5,396.1 180.5,393.6 186.5,391.1 192.5,385.3 198.5,380.2 204.5,374.8 210.5,367.1 216.5,358.8 222.5,351.3 228.5,344.4 234.5,337.4 240.5,330.5 246.5,327.3 252.5,326.2 258.5,324.9 264.5,323.5 270.5,319.5 276.5,317.3 282.5,314.0 288.5,311.8 294.5,313.4 300.5,314.8 306.5,313.3 312.5,310.7 318.5,310.5 324.5,315.4 330.5,318.0 336.5,321.1 342.5,324.1 348.5,326.6 354.5,330.1 360.5,332.4 366.5,336.7 372.5,341.5 378.5,343.3 384.5,345.7 390.5,347.9 396.5,349.2 402.5,346.0 408.5,341.5 414.5,336.2 420.5,331.5 426.5,325.0 432.5,316.8 438.5,306.0 444.5,292.8 450.5,281.7 456.5,272.3 462.5,262.4 468.5,257.3 474.5,253.1 480.5,247.4 486.5,245.0 492.5,245.3 498.5,250.6 504.5,254.6 510.5,259.2 516.5,265.9 522.5,269.5 528.5,276.4 534.5,281.4 540.5,286.6 546.5,295.2 552.5,301.5 558.5,306.1 564.5,310.2 570.5,313.3 576.5,313.1 582.5,309.7 588.5,308.1 594.5,301.5 600.5,289.9 606.5,276.5 612.5,263.2 618.5,250.1 624.5,232.1 630.5,219.0 636.5,201.7 642.5,188.1 648.5,179.2 654.5,173.5 660.5,169.1 666.5,167.9 672.5,165.7 678.5,167.3 684.5,169.5 690.5,176.9 696.5,181.4 702.5,186.3 708.5,186.6 714.5,187.3 720.5,183.2 726.5,182.5 732.5,181.0 738.5,175.1 744.5,165.4 750.5,154.9 756.5,140.3 762.5,132.3 768.5,120.9 774.5,114.7 780.5,106.3 786.5,103.3 792.5,103.8 798.5,111.4 804.5,120.3 810.5,133.3 816.5,142.1 822.5,155.6 828.5,167.9 834.5,180.2 840.5,189.2 846.5,196.9 852.5,202.3 858.5,206.7 864.5,208.0 870.5,212.8 876.5,216.2 882.5,221.7 888.5,225.2 894.5,229.2 900.5,233.2 906.5,232.3 912.5,234.2 918.5,240.1 924.5,242.7 930.5,243.7 936.5,239.1 942.5,242.8 948.5,241.8 954.5,243.9 960.5,249.5 966.5,258.0 972.5,265.5 978.5,275.4 984.5,286.5" fill="none" stroke="#000000" stroke-width="1" shape-rendering="crispEdges" />
</g>
<line x1="3" y1="340.5" x2="1013" y2="340.5" stroke="#1e88f0" stroke-dasharray="3,3"/>
<line x1="765.0" y1="72.5" x2="772.0" y2="72.5" stroke="#000" shape-rendering="crispEdges"/>
<line x1="768.5" y1="70" x2="768.5" y2="75" stroke="#000" shape-rendering="crispEdges"/>
<text x="773" y="69" font-size="12" font-weight="bold" fill="#d9453c">1.3433</text>
<line x1="87.0" y1="475.5" x2="94.0" y2="475.5" stroke="#000" shape-rendering="crispEdges"/>
<line x1="90.5" y1="473" x2="90.5" y2="478" stroke="#000" shape-rendering="crispEdges"/>
<text x="96" y="487" font-size="12" font-weight="bold" fill="#6aa04f">1.2299</text>
<line x1="975.0" y1="358.5" x2="982.0" y2="358.5" stroke="#000" shape-rendering="crispEdges"/>
<line x1="978.5" y1="356" x2="978.5" y2="361" stroke="#000" shape-rendering="crispEdges"/>
<text x="937" y="371" font-size="12" font-weight="bold" fill="#6aa04f">1.2629</text>
<text x="1016.5" y="26.8" font-size="12" fill="#1a2035">1.3569</text>
<line x1="1014" y1="83.5" x2="1017" y2="83.5" stroke="#9aa4b4"/>
<text x="1016.5" y="86.8" font-size="12" fill="#1a2035">1.3399</text>
<line x1="1014" y1="143.5" x2="1017" y2="143.5" stroke="#9aa4b4"/>
<text x="1016.5" y="146.8" font-size="12" fill="#1a2035">1.3229</text>
<line x1="1014" y1="204.5" x2="1017" y2="204.5" stroke="#9aa4b4"/>
<text x="1016.5" y="207.8" font-size="12" fill="#1a2035">1.3059</text>
<line x1="1014" y1="264.5" x2="1017" y2="264.5" stroke="#9aa4b4"/>
<text x="1016.5" y="267.8" font-size="12" fill="#1a2035">1.2890</text>
<line x1="1014" y1="324.5" x2="1017" y2="324.5" stroke="#9aa4b4"/>
<text x="1016.5" y="327.8" font-size="12" fill="#1a2035">1.2720</text>
<line x1="1014" y1="385.5" x2="1017" y2="385.5" stroke="#9aa4b4"/>
<text x="1016.5" y="388.8" font-size="12" fill="#1a2035">1.2550</text>
<line x1="1014" y1="445.5" x2="1017" y2="445.5" stroke="#9aa4b4"/>
<text x="1016.5" y="448.8" font-size="12" fill="#1a2035">1.2380</text>
<rect x="1014" y="35" width="1" height="1" fill="#b8c0cc"/>
<rect x="1" y="35" width="1" height="1" fill="#c0c8d2"/>
<rect x="1014" y="47" width="1" height="1" fill="#b8c0cc"/>
<rect x="1" y="47" width="1" height="1" fill="#c0c8d2"/>
<rect x="1014" y="59" width="1" height="1" fill="#b8c0cc"/>
<rect x="1" y="59" width="1" height="1" fill="#c0c8d2"/>
<rect x="1014" y="71" width="1" height="1" fill="#b8c0cc"/>
<rect x="1" y="71" width="1" height="1" fill="#c0c8d2"/>
<rect x="1014" y="95" width="1" height="1" fill="#b8c0cc"/>
<rect x="1" y="95" width="1" height="1" fill="#c0c8d2"/>
<rect x="1014" y="107" width="1" height="1" fill="#b8c0cc"/>
<rect x="1" y="107" width="1" height="1" fill="#c0c8d2"/>
<rect x="1014" y="119" width="1" height="1" fill="#b8c0cc"/>
<rect x="1" y="119" width="1" height="1" fill="#c0c8d2"/>
<rect x="1014" y="131" width="1" height="1" fill="#b8c0cc"/>
<rect x="1" y="131" width="1" height="1" fill="#c0c8d2"/>
<rect x="1014" y="155" width="1" height="1" fill="#b8c0cc"/>
<rect x="1" y="155" width="1" height="1" fill="#c0c8d2"/>
<rect x="1014" y="167" width="1" height="1" fill="#b8c0cc"/>
<rect x="1" y="167" width="1" height="1" fill="#c0c8d2"/>
<rect x="1014" y="180" width="1" height="1" fill="#b8c0cc"/>
<rect x="1" y="180" width="1" height="1" fill="#c0c8d2"/>
<rect x="1014" y="192" width="1" height="1" fill="#b8c0cc"/>
<rect x="1" y="192" width="1" height="1" fill="#c0c8d2"/>
<rect x="1014" y="216" width="1" height="1" fill="#b8c0cc"/>
<rect x="1" y="216" width="1" height="1" fill="#c0c8d2"/>
<rect x="1014" y="228" width="1" height="1" fill="#b8c0cc"/>
<rect x="1" y="228" width="1" height="1" fill="#c0c8d2"/>
<rect x="1014" y="240" width="1" height="1" fill="#b8c0cc"/>
<rect x="1" y="240" width="1" height="1" fill="#c0c8d2"/>
<rect x="1014" y="252" width="1" height="1" fill="#b8c0cc"/>
<rect x="1" y="252" width="1" height="1" fill="#c0c8d2"/>
<rect x="1014" y="276" width="1" height="1" fill="#b8c0cc"/>
<rect x="1" y="276" width="1" height="1" fill="#c0c8d2"/>
<rect x="1014" y="288" width="1" height="1" fill="#b8c0cc"/>
<rect x="1" y="288" width="1" height="1" fill="#c0c8d2"/>
<rect x="1014" y="300" width="1" height="1" fill="#b8c0cc"/>
<rect x="1" y="300" width="1" height="1" fill="#c0c8d2"/>
<rect x="1014" y="312" width="1" height="1" fill="#b8c0cc"/>
<rect x="1" y="312" width="1" height="1" fill="#c0c8d2"/>
<rect x="1014" y="336" width="1" height="1" fill="#b8c0cc"/>
<rect x="1" y="336" width="1" height="1" fill="#c0c8d2"/>
<rect x="1014" y="348" width="1" height="1" fill="#b8c0cc"/>
<rect x="1" y="348" width="1" height="1" fill="#c0c8d2"/>
<rect x="1014" y="361" width="1" height="1" fill="#b8c0cc"/>
<rect x="1" y="361" width="1" height="1" fill="#c0c8d2"/>
<rect x="1014" y="373" width="1" height="1" fill="#b8c0cc"/>
<rect x="1" y="373" width="1" height="1" fill="#c0c8d2"/>
<rect x="1014" y="397" width="1" height="1" fill="#b8c0cc"/>
<rect x="1" y="397" width="1" height="1" fill="#c0c8d2"/>
<rect x="1014" y="409" width="1" height="1" fill="#b8c0cc"/>
<rect x="1" y="409" width="1" height="1" fill="#c0c8d2"/>
<rect x="1014" y="421" width="1" height="1" fill="#b8c0cc"/>
<rect x="1" y="421" width="1" height="1" fill="#c0c8d2"/>
<rect x="1014" y="433" width="1" height="1" fill="#b8c0cc"/>
<rect x="1" y="433" width="1" height="1" fill="#c0c8d2"/>
<rect x="0" y="83" width="2" height="1" fill="#b0b8c4"/>
<rect x="0" y="143" width="2" height="1" fill="#b0b8c4"/>
<rect x="0" y="204" width="2" height="1" fill="#b0b8c4"/>
<rect x="0" y="264" width="2" height="1" fill="#b0b8c4"/>
<rect x="0" y="324" width="2" height="1" fill="#b0b8c4"/>
<rect x="0" y="385" width="2" height="1" fill="#b0b8c4"/>
<rect x="0" y="445" width="2" height="1" fill="#b0b8c4"/>
<rect x="1014" y="457" width="1" height="1" fill="#b8c0cc"/>
<rect x="1" y="457" width="1" height="1" fill="#c0c8d2"/>
<rect x="1014" y="469" width="1" height="1" fill="#b8c0cc"/>
<rect x="1" y="469" width="1" height="1" fill="#c0c8d2"/>
<rect x="1014" y="481" width="1" height="1" fill="#b8c0cc"/>
<rect x="1" y="481" width="1" height="1" fill="#c0c8d2"/>
<rect x="1014" y="493" width="1" height="1" fill="#b8c0cc"/>
<rect x="1" y="493" width="1" height="1" fill="#c0c8d2"/>
<rect x="1013.5" y="207.5" width="67.5" height="16.5" fill="#fff" stroke="#e0e6ee"/>
<text x="1015.8" y="219.8" font-size="12.4" fill="#ff8000" stroke="#ff8000" stroke-width="0.2">1.3051</text>
<rect x="1013.5" y="340.5" width="68" height="17" fill="#fff" stroke="none"/>
<polyline points="1081.5,340.5 1013.5,340.5 1013.5,357.5 1081,357.5" fill="none" stroke="#ff8000"/>
<text x="1016.2" y="353" font-size="12.4" fill="#ff8000" stroke="#ff8000" stroke-width="0.2">1.2678</text>
<polygon points="1073,336 1077,332 1081,336" fill="#ff8000"/>
<polygon points="1073,340.5 1077,336 1081.5,340.5" fill="#ff8000"/>
<line x1="1081.5" y1="200" x2="1081.5" y2="506" stroke="#edf1f5"/>
<line x1="1084.5" y1="223.5" x2="1087" y2="220.5" stroke="#ffb020" stroke-width="1.2"/>
<line x1="1083" y1="82.5" x2="1087" y2="82.5" stroke="#d4dae2"/>
<line x1="1083" y1="181.5" x2="1087" y2="181.5" stroke="#d4dae2"/>
<text x="1083.6" y="97.5" font-size="12" fill="#2c3a66" font-family="Noto Sans CJK SC, sans-serif">自</text>
<text x="1083.6" y="122.5" font-size="12" fill="#2c3a66" font-family="Noto Sans CJK SC, sans-serif">自</text>
<text x="1083.6" y="147.5" font-size="12" fill="#2c3a66" font-family="Noto Sans CJK SC, sans-serif">资</text>
<text x="1083.6" y="172.5" font-size="12" fill="#2c3a66" font-family="Noto Sans CJK SC, sans-serif">自</text>
<text x="4" y="16" font-size="12" fill="#000" stroke="#000" stroke-width="0.35">英镑美元</text>
<text x="50.5" y="16" font-size="12" fill="#ff8000" stroke="#ff8000" stroke-width="0.25" textLength="50" lengthAdjust="spacing">【日线】</text>
<circle cx="104.5" cy="13.5" r="3.7" fill="none" stroke="#ff7f10" stroke-width="1"/>
<line x1="100.5" y1="13.5" x2="108.5" y2="13.5" stroke="#ff8000" shape-rendering="crispEdges"/><line x1="104.5" y1="10" x2="104.5" y2="17" stroke="#ff9a30" stroke-opacity="0.45" shape-rendering="crispEdges"/>
<rect x="129" y="5" width="1" height="12" fill="#a8a898"/><rect x="119" y="16" width="11" height="1" fill="#a8a898"/>
<g shape-rendering="crispEdges"><rect x="117.5" y="3.5" width="11" height="12" fill="#fff" stroke="#000080"/>
<rect x="117" y="3" width="1" height="1" fill="#fff"/><rect x="128" y="3" width="1" height="1" fill="#fff"/><rect x="117" y="15" width="1" height="1" fill="#fff"/><rect x="128" y="15" width="1" height="1" fill="#fff"/>
<polyline points="118,11 121.5,6.5 124.5,9.5 126.5,7.5 128,7.5" fill="none" stroke="#ff0000"/>
<polyline points="118,14 121.5,9.5 124.5,12.5 126.5,10.5 128,10.5" fill="none" stroke="#0000ff"/></g>
<text x="132.5" y="16.3" font-size="12.5" fill="#000" stroke="#000" stroke-width="0.15" textLength="133.5" lengthAdjust="spacingAndGlyphs">MA(9,14,20,50,100,200)</text>
<text x="271" y="16.3" font-size="12.5" fill="#000" stroke="#000" stroke-width="0.15" textLength="66" lengthAdjust="spacingAndGlyphs">MA9:1.2831</text>
<text x="346.5" y="16.3" font-size="12.5" fill="#00008b" stroke="#00008b" stroke-width="0.15" textLength="74" lengthAdjust="spacingAndGlyphs">MA14:1.2874</text>
<text x="429.5" y="16.3" font-size="12.5" fill="#ff00ff" stroke="#ff00ff" stroke-width="0.15" textLength="73.5" lengthAdjust="spacingAndGlyphs">MA20:1.2901</text>
<text x="512.5" y="16.3" font-size="12.5" fill="#ff8000" stroke="#ff8000" stroke-width="0.15" textLength="74.3" lengthAdjust="spacingAndGlyphs">MA50:1.3065</text>
<text x="595.7" y="16.3" font-size="12.5" fill="#7a7a7a" stroke="#7a7a7a" stroke-width="0.15" textLength="80.5" lengthAdjust="spacingAndGlyphs">MA100:1.2995</text>
<text x="685.7" y="16.3" font-size="12.5" fill="#d9453c" stroke="#d9453c" stroke-width="0.15" textLength="81.3" lengthAdjust="spacingAndGlyphs">MA200:1.2818</text>
<rect x="950.5" y="3.5" width="13" height="13" fill="#fff" stroke="#1a74c6"/>
<rect x="966.5" y="3.5" width="13" height="13" fill="#fff" stroke="#1a74c6"/>
<rect x="982.5" y="3.5" width="13" height="13" fill="#fff" stroke="#1a74c6"/>
<rect x="998.5" y="3.5" width="13" height="13" fill="#fff" stroke="#1a74c6"/>
<g fill="#1a74c6" shape-rendering="crispEdges"><rect x="956" y="5" width="2" height="3"/><rect x="956" y="12" width="2" height="3"/><rect x="952" y="9" width="3" height="2"/><rect x="959" y="9" width="3" height="2"/><rect x="956" y="9" width="2" height="2"/></g>
<g stroke="#1a74c6" fill="none" shape-rendering="crispEdges"><line x1="969.5" y1="6" x2="969.5" y2="15"/><line x1="968" y1="13.5" x2="977" y2="13.5"/><line x1="972.5" y1="7" x2="972.5" y2="12"/></g>
<g fill="#1a74c6"><polygon points="967.5,7 969.5,4.8 971.5,7"/><polygon points="976,11.5 978.5,13.5 976,15.5"/><polygon points="976,7 976,12 973,9.5"/></g>
<g stroke="#1a74c6" fill="none" shape-rendering="crispEdges"><line x1="985.5" y1="6" x2="985.5" y2="15"/><line x1="984" y1="13.5" x2="993" y2="13.5"/></g>
<g fill="#1a74c6"><polygon points="983.5,7 985.5,4.8 987.5,7"/><polygon points="992,11.5 994.5,13.5 992,15.5"/><polygon points="988,6 988,12.5 993.2,9.3"/></g>
<g stroke="#1a74c6" fill="none" shape-rendering="crispEdges"><rect x="1000.5" y="5.5" width="3" height="9"/><line x1="1003" y1="9.5" x2="1007" y2="9.5" stroke-width="2"/></g>
<polygon points="1006.5,6.5 1006.5,12.5 1010,9.5" fill="#1a74c6"/>
<line x1="3" y1="506.5" x2="1083" y2="506.5" stroke="#e4e9ef"/>
<line x1="4" y1="528.5" x2="1014" y2="528.5" stroke="#e5e9ee" stroke-dasharray="3,3"/>
<text x="1016.5" y="531.8" font-size="12" fill="#1a2035">90.6466</text>
<line x1="3" y1="553.5" x2="1014" y2="553.5" stroke="#e5e9ee" stroke-dasharray="1,2"/>
<line x1="1014" y1="553.5" x2="1017" y2="553.5" stroke="#9aa4b4"/>
<text x="1016.5" y="556.8" font-size="12" fill="#1a2035">80.2664</text>
<line x1="3" y1="578.5" x2="1014" y2="578.5" stroke="#e5e9ee" stroke-dasharray="1,2"/>
<line x1="1014" y1="578.5" x2="1017" y2="578.5" stroke="#9aa4b4"/>
<text x="1016.5" y="581.8" font-size="12" fill="#1a2035">69.8862</text>
<line x1="3" y1="603.5" x2="1014" y2="603.5" stroke="#e5e9ee" stroke-dasharray="1,2"/>
<line x1="1014" y1="603.5" x2="1017" y2="603.5" stroke="#9aa4b4"/>
<text x="1016.5" y="606.8" font-size="12" fill="#1a2035">59.5060</text>
<line x1="3" y1="628.5" x2="1014" y2="628.5" stroke="#e5e9ee" stroke-dasharray="1,2"/>
<line x1="1014" y1="628.5" x2="1017" y2="628.5" stroke="#9aa4b4"/>
<text x="1016.5" y="631.8" font-size="12" fill="#1a2035">49.1258</text>
<line x1="3" y1="653.5" x2="1014" y2="653.5" stroke="#e5e9ee" stroke-dasharray="1,2"/>
<line x1="1014" y1="653.5" x2="1017" y2="653.5" stroke="#9aa4b4"/>
<text x="1016.5" y="656.8" font-size="12" fill="#1a2035">38.7456</text>
<line x1="3" y1="678.5" x2="1014" y2="678.5" stroke="#e5e9ee" stroke-dasharray="1,2"/>
<line x1="1014" y1="678.5" x2="1017" y2="678.5" stroke="#9aa4b4"/>
<text x="1016.5" y="681.8" font-size="12" fill="#1a2035">28.3654</text>
<line x1="1014.5" y1="528" x2="1014.5" y2="704" stroke="#bcc4ce" stroke-dasharray="1,4"/>
<rect x="0" y="528" width="2" height="1" fill="#b0b8c4"/>
<rect x="1" y="533" width="1" height="1" fill="#c0c8d2"/>
<rect x="1" y="538" width="1" height="1" fill="#c0c8d2"/>
<rect x="1" y="543" width="1" height="1" fill="#c0c8d2"/>
<rect x="1" y="548" width="1" height="1" fill="#c0c8d2"/>
<rect x="0" y="553" width="2" height="1" fill="#b0b8c4"/>
<rect x="1" y="558" width="1" height="1" fill="#c0c8d2"/>
<rect x="1" y="563" width="1" height="1" fill="#c0c8d2"/>
<rect x="1" y="568" width="1" height="1" fill="#c0c8d2"/>
<rect x="1" y="573" width="1" height="1" fill="#c0c8d2"/>
<rect x="0" y="578" width="2" height="1" fill="#b0b8c4"/>
<rect x="1" y="583" width="1" height="1" fill="#c0c8d2"/>
<rect x="1" y="588" width="1" height="1" fill="#c0c8d2"/>
<rect x="1" y="593" width="1" height="1" fill="#c0c8d2"/>
<rect x="1" y="598" width="1" height="1" fill="#c0c8d2"/>
<rect x="0" y="603" width="2" height="1" fill="#b0b8c4"/>
<rect x="1" y="608" width="1" height="1" fill="#c0c8d2"/>
<rect x="1" y="613" width="1" height="1" fill="#c0c8d2"/>
<rect x="1" y="618" width="1" height="1" fill="#c0c8d2"/>
<rect x="1" y="623" width="1" height="1" fill="#c0c8d2"/>
<rect x="0" y="628" width="2" height="1" fill="#b0b8c4"/>
<rect x="1" y="633" width="1" height="1" fill="#c0c8d2"/>
<rect x="1" y="638" width="1" height="1" fill="#c0c8d2"/>
<rect x="1" y="643" width="1" height="1" fill="#c0c8d2"/>
<rect x="1" y="648" width="1" height="1" fill="#c0c8d2"/>
<rect x="0" y="653" width="2" height="1" fill="#b0b8c4"/>
<rect x="1" y="658" width="1" height="1" fill="#c0c8d2"/>
<rect x="1" y="663" width="1" height="1" fill="#c0c8d2"/>
<rect x="1" y="668" width="1" height="1" fill="#c0c8d2"/>
<rect x="1" y="673" width="1" height="1" fill="#c0c8d2"/>
<rect x="0" y="678" width="2" height="1" fill="#b0b8c4"/>
<rect x="1" y="683" width="1" height="1" fill="#c0c8d2"/>
<rect x="1" y="688" width="1" height="1" fill="#c0c8d2"/>
<rect x="1" y="693" width="1" height="1" fill="#c0c8d2"/>
<rect x="1" y="698" width="1" height="1" fill="#c0c8d2"/>
<rect x="1" y="703" width="1" height="1" fill="#c0c8d2"/>
<polyline points="6.5,641.8 12.5,629.6 18.5,631.2 24.5,632.1 30.5,628.9 36.5,625.3 42.5,645.4 48.5,642.9 54.5,655.4 60.5,655.4 66.5,657.7 72.5,652.3 78.5,654.8 84.5,661.8 90.5,664.0 96.5,646.5 102.5,644.2 108.5,636.4 114.5,639.5 120.5,628.8 126.5,638.0 132.5,632.8 138.5,631.5 144.5,630.0 150.5,628.0 156.5,635.6 162.5,637.0 168.5,632.2 174.5,631.8 180.5,627.3 186.5,622.2 192.5,610.1 198.5,612.3 204.5,608.6 210.5,607.9 216.5,607.2 222.5,606.4 228.5,609.8 234.5,604.6 240.5,600.6 246.5,601.8 252.5,614.1 258.5,609.0 264.5,607.8 270.5,598.8 276.5,606.8 282.5,604.3 288.5,603.6 294.5,616.9 300.5,615.4 306.5,614.2 312.5,605.8 318.5,616.1 324.5,625.5 330.5,622.1 336.5,621.4 342.5,620.4 348.5,630.4 354.5,633.0 360.5,626.1 366.5,624.9 372.5,635.4 378.5,632.2 384.5,631.5 390.5,629.9 396.5,624.6 402.5,616.0 408.5,613.1 414.5,605.2 420.5,606.8 426.5,611.0 432.5,602.1 438.5,594.1 444.5,586.5 450.5,590.4 456.5,589.5 462.5,586.0 468.5,599.4 474.5,605.3 480.5,602.2 486.5,607.5 492.5,606.9 498.5,617.2 504.5,614.9 510.5,615.8 516.5,620.3 522.5,617.4 528.5,636.3 534.5,625.5 540.5,630.1 546.5,641.1 552.5,640.1 558.5,632.2 564.5,630.6 570.5,630.5 576.5,616.7 582.5,622.6 588.5,618.8 594.5,607.4 600.5,602.9 606.5,598.4 612.5,593.3 618.5,593.0 624.5,582.1 630.5,587.4 636.5,581.4 642.5,592.7 648.5,596.3 654.5,601.6 660.5,600.0 666.5,605.0 672.5,601.6 678.5,598.4 684.5,605.8 690.5,613.8 696.5,612.8 702.5,618.2 708.5,609.1 714.5,608.9 720.5,599.7 726.5,608.1 732.5,602.7 738.5,596.7 744.5,593.4 750.5,591.3 756.5,585.9 762.5,599.2 768.5,591.8 774.5,597.7 780.5,597.4 786.5,608.9 792.5,611.3 798.5,627.3 804.5,627.6 810.5,631.7 816.5,628.9 822.5,632.7 828.5,633.9 834.5,633.0 840.5,633.2 846.5,631.8 852.5,641.5 858.5,638.3 864.5,633.4 870.5,641.1 876.5,640.2 882.5,647.3 888.5,639.7 894.5,641.6 900.5,639.6 906.5,633.9 912.5,640.2 918.5,646.9 924.5,643.7 930.5,638.6 936.5,627.7 942.5,644.8 948.5,632.3 954.5,638.9 960.5,643.4 966.5,653.1 972.5,656.0 978.5,659.1 984.5,657.0" fill="none" stroke="#ff00ff" stroke-width="1" shape-rendering="crispEdges" />
<polyline points="6.5,656.5 12.5,629.7 18.5,633.1 24.5,634.9 30.5,627.9 36.5,620.1 42.5,659.4 48.5,654.1 54.5,674.2 60.5,674.2 66.5,677.8 72.5,666.0 78.5,670.2 84.5,681.3 90.5,684.7 96.5,648.5 102.5,644.1 108.5,629.6 114.5,635.8 120.5,616.6 126.5,634.9 132.5,625.5 138.5,623.3 144.5,620.6 150.5,616.8 156.5,633.0 162.5,635.9 168.5,626.3 174.5,625.5 180.5,616.5 186.5,606.7 192.5,586.0 198.5,591.2 204.5,585.1 210.5,584.1 216.5,582.9 222.5,581.6 228.5,590.7 234.5,581.2 240.5,574.3 246.5,577.6 252.5,608.4 258.5,598.1 264.5,595.8 270.5,579.4 276.5,597.8 282.5,593.1 288.5,591.8 294.5,620.7 300.5,617.3 306.5,614.7 312.5,597.5 318.5,619.0 324.5,636.7 330.5,629.4 336.5,628.0 342.5,625.6 348.5,644.9 354.5,649.5 360.5,633.9 366.5,631.2 372.5,651.0 378.5,643.7 384.5,642.2 390.5,638.3 396.5,626.1 402.5,608.3 408.5,602.6 414.5,588.3 420.5,592.2 426.5,601.9 432.5,585.6 438.5,572.9 444.5,562.3 450.5,570.7 456.5,569.4 462.5,564.2 468.5,592.6 474.5,604.3 480.5,598.5 486.5,608.9 492.5,607.7 498.5,627.8 504.5,622.7 510.5,624.6 516.5,633.3 522.5,626.4 528.5,659.6 534.5,636.3 540.5,644.2 546.5,661.4 552.5,659.3 558.5,642.8 564.5,639.4 570.5,639.2 576.5,612.0 582.5,623.4 588.5,616.1 594.5,596.2 600.5,588.9 606.5,582.0 612.5,574.3 618.5,573.8 624.5,558.9 630.5,569.7 636.5,561.4 642.5,583.4 648.5,590.3 654.5,600.3 660.5,597.4 666.5,606.9 672.5,600.4 678.5,594.2 684.5,608.9 690.5,623.8 696.5,621.7 702.5,631.7 708.5,612.1 714.5,611.9 720.5,593.9 726.5,610.2 732.5,599.9 738.5,589.2 744.5,583.4 750.5,579.9 756.5,571.1 762.5,597.5 768.5,584.7 774.5,595.8 780.5,595.1 786.5,616.5 792.5,620.8 798.5,647.2 804.5,647.7 810.5,654.1 816.5,647.8 822.5,654.0 828.5,656.0 834.5,653.7 840.5,654.1 846.5,650.4 852.5,667.7 858.5,659.5 864.5,647.4 870.5,661.3 876.5,659.1 882.5,671.3 888.5,653.3 894.5,656.6 900.5,651.9 906.5,638.5 912.5,651.3 918.5,663.5 924.5,656.1 930.5,644.6 936.5,621.9 942.5,654.3 948.5,630.8 954.5,642.6 960.5,650.1 966.5,665.8 972.5,670.2 978.5,674.9 984.5,670.6" fill="none" stroke="#00008b" stroke-width="1" shape-rendering="crispEdges" />
<polyline points="6.5,668.7 12.5,616.2 18.5,623.4 24.5,627.5 30.5,613.4 36.5,598.3 42.5,675.7 48.5,665.1 54.5,694.2 60.5,694.2 66.5,699.2 72.5,673.5 78.5,681.2 84.5,699.3 90.5,704.3 96.5,633.7 102.5,626.3 108.5,602.7 114.5,617.5 120.5,587.3 126.5,626.8 132.5,610.8 138.5,607.0 144.5,602.1 150.5,595.0 156.5,634.2 162.5,640.5 168.5,618.6 174.5,616.7 180.5,597.2 186.5,578.8 192.5,550.2 198.5,563.0 204.5,554.6 210.5,553.2 216.5,551.5 222.5,549.4 228.5,577.2 234.5,558.4 240.5,547.6 246.5,556.6 252.5,627.6 258.5,603.0 264.5,598.0 270.5,566.1 276.5,603.1 282.5,593.4 288.5,590.6 294.5,644.9 300.5,636.7 306.5,630.2 312.5,592.3 318.5,633.1 324.5,661.0 330.5,644.9 336.5,641.9 342.5,636.1 348.5,670.8 354.5,677.8 360.5,640.8 366.5,634.8 372.5,671.5 378.5,654.9 384.5,651.3 390.5,641.8 396.5,614.1 402.5,581.9 408.5,573.1 414.5,553.9 420.5,563.7 426.5,587.7 432.5,561.4 438.5,545.6 444.5,534.9 450.5,552.2 456.5,550.4 462.5,543.2 468.5,601.1 474.5,621.8 480.5,608.5 486.5,627.7 492.5,624.7 498.5,659.7 504.5,646.4 510.5,649.7 516.5,665.2 522.5,645.6 528.5,695.5 534.5,646.4 540.5,659.0 546.5,684.0 552.5,679.6 558.5,645.6 564.5,638.8 570.5,638.4 576.5,588.5 582.5,613.3 588.5,600.5 594.5,570.1 600.5,560.7 606.5,552.3 612.5,543.6 618.5,543.1 624.5,528.7 630.5,551.5 636.5,540.9 642.5,583.8 648.5,596.8 654.5,615.1 660.5,608.2 666.5,626.6 672.5,610.2 678.5,595.6 684.5,626.1 690.5,652.5 696.5,646.8 702.5,664.1 708.5,616.0 714.5,615.5 720.5,579.7 726.5,613.4 732.5,593.5 738.5,575.0 744.5,565.9 750.5,560.5 756.5,548.0 762.5,602.0 768.5,578.4 774.5,599.4 780.5,598.0 786.5,637.2 792.5,644.6 798.5,682.3 804.5,683.0 810.5,691.2 816.5,675.1 822.5,684.6 828.5,687.6 834.5,680.8 840.5,681.7 846.5,669.5 852.5,700.9 858.5,678.0 864.5,647.4 870.5,676.2 876.5,670.9 882.5,692.6 888.5,652.1 894.5,659.2 900.5,648.7 906.5,620.3 912.5,650.9 918.5,674.7 924.5,658.6 930.5,634.7 936.5,595.3 942.5,658.7 948.5,620.4 954.5,641.2 960.5,654.2 966.5,678.8 972.5,685.2 978.5,692.1 984.5,682.8" fill="none" stroke="#000000" stroke-width="1" shape-rendering="crispEdges" />
<text x="4" y="521" font-size="12" fill="#000" stroke="#000" stroke-width="0.3" textLength="146" lengthAdjust="spacingAndGlyphs">RSI(6,12,24) RSI1:26.2438</text>
<text x="158.5" y="521" font-size="12" fill="#00008b" stroke="#00008b" stroke-width="0.3" textLength="73" lengthAdjust="spacingAndGlyphs">RSI2:31.5928</text>
<text x="240" y="521" font-size="12" fill="#ff00ff" stroke="#ff00ff" stroke-width="0.3" textLength="73" lengthAdjust="spacingAndGlyphs">RSI3:37.3696</text>
<rect x="0" y="704" width="1083" height="20" fill="#fff"/>
<line x1="3" y1="704.5" x2="1083" y2="704.5" stroke="#dfe4ea"/>
<line x1="1.5" y1="704" x2="1.5" y2="724" stroke="#d4dae2"/>
<line x1="132.5" y1="705" x2="132.5" y2="712" stroke="#c8d0da"/>
<text x="136" y="717" font-size="12" font-weight="bold" fill="#1f2940" textLength="43" lengthAdjust="spacingAndGlyphs">2024/05</text>
<line x1="270.5" y1="705" x2="270.5" y2="712" stroke="#c8d0da"/>
<text x="272.5" y="717" font-size="12" font-weight="bold" fill="#1f2940" textLength="43" lengthAdjust="spacingAndGlyphs">2024/06</text>
<line x1="390.5" y1="705" x2="390.5" y2="712" stroke="#c8d0da"/>
<text x="392.5" y="717" font-size="12" font-weight="bold" fill="#1f2940" textLength="43" lengthAdjust="spacingAndGlyphs">2024/07</text>
<line x1="528.5" y1="705" x2="528.5" y2="712" stroke="#c8d0da"/>
<text x="530.5" y="717" font-size="12" font-weight="bold" fill="#1f2940" textLength="43" lengthAdjust="spacingAndGlyphs">2024/08</text>
<line x1="660.5" y1="705" x2="660.5" y2="712" stroke="#c8d0da"/>
<text x="662.5" y="717" font-size="12" font-weight="bold" fill="#1f2940" textLength="43" lengthAdjust="spacingAndGlyphs">2024/09</text>
<line x1="786.5" y1="705" x2="786.5" y2="712" stroke="#c8d0da"/>
<text x="788.5" y="717" font-size="12" font-weight="bold" fill="#1f2940" textLength="43" lengthAdjust="spacingAndGlyphs">2024/10</text>
<line x1="924.5" y1="705" x2="924.5" y2="712" stroke="#c8d0da"/>
<text x="926.5" y="717" font-size="12" font-weight="bold" fill="#1f2940" textLength="43" lengthAdjust="spacingAndGlyphs">2024/11</text>
<rect x="25.5" y="705.5" width="109" height="15" fill="#fff" stroke="#e3e8ee"/>
<text x="27.5" y="717" font-size="12.5" fill="#ff8000" textLength="104.5" lengthAdjust="spacingAndGlyphs">2024/04/05 星期五</text>
<line x1="0" y1="724.5" x2="1083" y2="724.5" stroke="#d4dae2"/>
<rect x="0" y="739" width="1083" height="2" fill="#d0d8e2"/>
<line x1="11.5" y1="725" x2="11.5" y2="739" stroke="#d4dae2"/>
<line x1="69.5" y1="725" x2="69.5" y2="739" stroke="#d4dae2"/>
<line x1="97.5" y1="725" x2="97.5" y2="739" stroke="#d4dae2"/>
<line x1="137.5" y1="725" x2="137.5" y2="739" stroke="#d4dae2"/>
<line x1="177.5" y1="725" x2="177.5" y2="739" stroke="#d4dae2"/>
<line x1="211.5" y1="725" x2="211.5" y2="739" stroke="#d4dae2"/>
<line x1="251.5" y1="725" x2="251.5" y2="739" stroke="#d4dae2"/>
<line x1="285.5" y1="725" x2="285.5" y2="739" stroke="#d4dae2"/>
<line x1="319.5" y1="725" x2="319.5" y2="739" stroke="#d4dae2"/>
<line x1="359.5" y1="725" x2="359.5" y2="739" stroke="#d4dae2"/>
<line x1="393.5" y1="725" x2="393.5" y2="739" stroke="#d4dae2"/>
<line x1="421.5" y1="725" x2="421.5" y2="739" stroke="#d4dae2"/>
<line x1="455.5" y1="725" x2="455.5" y2="739" stroke="#d4dae2"/>
<line x1="495.5" y1="725" x2="495.5" y2="739" stroke="#d4dae2"/>
<text x="77.5" y="736" font-family="Liberation Serif, serif" font-size="11.5" fill="#1f2940" stroke="#1f2940" stroke-width="0.3" textLength="12" lengthAdjust="spacingAndGlyphs">MA</text>
<text x="105.5" y="736" font-family="Liberation Serif, serif" font-size="11.5" fill="#1f2940" stroke="#1f2940" stroke-width="0.3" textLength="24" lengthAdjust="spacingAndGlyphs">MACD</text>
<text x="145.5" y="736" font-family="Liberation Serif, serif" font-size="11.5" fill="#1f2940" stroke="#1f2940" stroke-width="0.3" textLength="24" lengthAdjust="spacingAndGlyphs">BOLL</text>
<text x="186" y="736" font-family="Liberation Serif, serif" font-size="11.5" fill="#1f2940" stroke="#1f2940" stroke-width="0.3" textLength="18" lengthAdjust="spacingAndGlyphs">VOL</text>
<text x="219.5" y="736" font-family="Liberation Serif, serif" font-size="11.5" fill="#1f2940" stroke="#1f2940" stroke-width="0.3" textLength="24" lengthAdjust="spacingAndGlyphs">BIAS</text>
<text x="259.5" y="736" font-family="Liberation Serif, serif" font-size="11.5" fill="#1f2940" stroke="#1f2940" stroke-width="0.3" textLength="18" lengthAdjust="spacingAndGlyphs">CCI</text>
<text x="293.5" y="736" font-family="Liberation Serif, serif" font-size="11.5" fill="#1f2940" stroke="#1f2940" stroke-width="0.3" textLength="18" lengthAdjust="spacingAndGlyphs">KDJ</text>
<text x="327.5" y="736" font-family="Liberation Serif, serif" font-size="11.5" fill="#1f2940" stroke="#1f2940" stroke-width="0.3" textLength="18" lengthAdjust="spacingAndGlyphs">LW&amp;</text>
<text x="367" y="736" font-family="Liberation Serif, serif" font-size="11.5" fill="#1f2940" stroke="#1f2940" stroke-width="0.3" textLength="18" lengthAdjust="spacingAndGlyphs">RSI</text>
<text x="401.5" y="736" font-family="Liberation Serif, serif" font-size="11.5" fill="#1f2940" stroke="#1f2940" stroke-width="0.3" textLength="12" lengthAdjust="spacingAndGlyphs">CR</text>
<text x="429.5" y="736" font-family="Liberation Serif, serif" font-size="11.5" fill="#1f2940" stroke="#1f2940" stroke-width="0.3" textLength="18" lengthAdjust="spacingAndGlyphs">PSY</text>
<text x="19" y="736" font-size="12" fill="#ff8000" font-family="Liberation Serif, Noto Serif CJK SC, serif"><tspan textLength="18" lengthAdjust="spacingAndGlyphs">VIP</tspan><tspan font-family="Noto Sans CJK SC, sans-serif">指标</tspan></text>
<text x="463.5" y="736.5" font-size="12" fill="#1f2940" font-family="Noto Sans CJK SC, sans-serif">设置</text>
<text x="-8.5" y="736.5" font-size="12" fill="#1f2940" font-family="Noto Sans CJK SC, sans-serif">版</text>
<rect x="407" y="740" width="180" height="2" fill="#c6c6c6"/>
<g font-size="31.5" letter-spacing="1.5"><text x="958.6" y="718" fill="#b49474" fill-opacity="0.75">FX678</text>
<text x="957.6" y="717" fill="#d9e6f6">FX678</text></g>
<line x1="940" y1="704.5" x2="1083" y2="704.5" stroke="#dfe4ea" stroke-opacity="0.8"/>
</svg></body></html>
